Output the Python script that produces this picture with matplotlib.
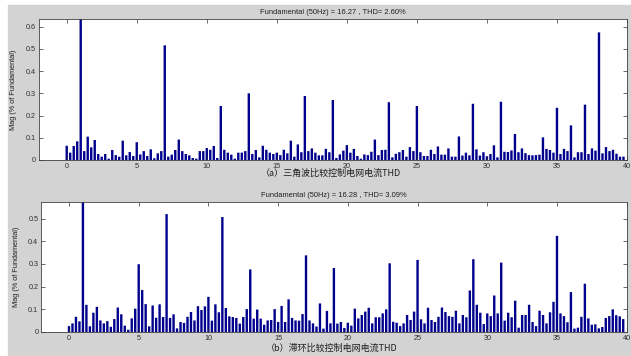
import numpy as np
import matplotlib.pyplot as plt
import matplotlib.transforms as mtransforms
from matplotlib.patches import Rectangle

plt.rcParams['font.family'] = ['Liberation Sans', 'Noto Sans CJK SC', 'DejaVu Sans']

# harmonic order axis: FFT resolution 12.5 Hz -> steps of 0.25 of 50 Hz
HARMONIC_ORDER = np.arange(0, 40, 0.25)

# (a) triangle-carrier comparison control, Mag in % of fundamental
MAG_A = [
    0.064, 0.033, 0.063, 0.084, 100.0, 0.040, 0.105, 0.057,
    0.090, 0.027, 0.015, 0.027, 0.006, 0.045, 0.022, 0.015,
    0.087, 0.021, 0.036, 0.018, 0.080, 0.025, 0.040, 0.018,
    0.048, 0.008, 0.030, 0.040, 0.516, 0.015, 0.024, 0.045,
    0.092, 0.040, 0.027, 0.021, 0.009, 0.006, 0.040, 0.040,
    0.054, 0.046, 0.063, 0.009, 0.243, 0.046, 0.033, 0.024,
    0.006, 0.033, 0.033, 0.040, 0.300, 0.027, 0.045, 0.012,
    0.064, 0.046, 0.033, 0.027, 0.033, 0.022, 0.046, 0.030,
    0.087, 0.015, 0.070, 0.035, 0.288, 0.040, 0.052, 0.033,
    0.021, 0.021, 0.050, 0.035, 0.270, 0.009, 0.025, 0.042,
    0.067, 0.033, 0.050, 0.018, 0.006, 0.025, 0.022, 0.037,
    0.092, 0.022, 0.045, 0.046, 0.260, 0.012, 0.028, 0.035,
    0.045, 0.015, 0.058, 0.040, 0.243, 0.035, 0.018, 0.018,
    0.046, 0.027, 0.061, 0.024, 0.024, 0.052, 0.015, 0.015,
    0.106, 0.020, 0.033, 0.021, 0.253, 0.048, 0.020, 0.035,
    0.017, 0.027, 0.066, 0.012, 0.262, 0.037, 0.036, 0.043,
    0.117, 0.035, 0.052, 0.031, 0.022, 0.021, 0.022, 0.024,
    0.102, 0.050, 0.045, 0.033, 0.235, 0.027, 0.050, 0.040,
    0.156, 0.012, 0.035, 0.035, 0.249, 0.027, 0.052, 0.042,
    0.574, 0.030, 0.058, 0.040, 0.046, 0.028, 0.015, 0.015,
]

# (b) hysteresis comparison control
MAG_B = [
    0.026, 0.038, 0.067, 0.047, 100.0, 0.120, 0.025, 0.085,
    0.111, 0.051, 0.038, 0.048, 0.023, 0.057, 0.108, 0.078,
    0.028, 0.010, 0.060, 0.103, 0.299, 0.185, 0.123, 0.025,
    0.117, 0.063, 0.122, 0.066, 0.520, 0.062, 0.078, 0.016,
    0.044, 0.040, 0.067, 0.088, 0.051, 0.114, 0.097, 0.113,
    0.155, 0.050, 0.122, 0.087, 0.507, 0.106, 0.069, 0.066,
    0.062, 0.037, 0.066, 0.101, 0.276, 0.059, 0.099, 0.059,
    0.032, 0.051, 0.053, 0.101, 0.044, 0.115, 0.044, 0.144,
    0.062, 0.051, 0.050, 0.079, 0.338, 0.051, 0.038, 0.024,
    0.126, 0.015, 0.093, 0.038, 0.282, 0.037, 0.044, 0.018,
    0.041, 0.028, 0.103, 0.060, 0.075, 0.090, 0.107, 0.038,
    0.065, 0.065, 0.082, 0.100, 0.303, 0.045, 0.041, 0.026,
    0.038, 0.075, 0.053, 0.090, 0.318, 0.056, 0.038, 0.107,
    0.053, 0.044, 0.067, 0.108, 0.088, 0.070, 0.067, 0.094,
    0.038, 0.075, 0.065, 0.183, 0.321, 0.120, 0.085, 0.035,
    0.082, 0.070, 0.161, 0.082, 0.306, 0.050, 0.085, 0.065,
    0.138, 0.019, 0.075, 0.075, 0.120, 0.044, 0.026, 0.094,
    0.075, 0.038, 0.087, 0.133, 0.424, 0.082, 0.070, 0.043,
    0.176, 0.015, 0.019, 0.067, 0.213, 0.060, 0.032, 0.034,
    0.016, 0.022, 0.062, 0.070, 0.100, 0.074, 0.069, 0.057,
]

TITLE_A = "Fundamental (50Hz) = 16.27 , THD= 2.60%"
TITLE_B = "Fundamental (50Hz) = 16.28 , THD= 3.09%"
CAPTION_A = "（a）三角波比较控制电网电流THD"
CAPTION_B = "（b）滞环比较控制电网电流THD"
YLABEL = "Mag (% of Fundamental)"

BG = "#d3d3d3"
BAR = "#00008c"

W, H = 631, 356
fig = plt.figure(figsize=(W / 100, H / 100), dpi=100, facecolor="white")
# grey window area of the screenshots
fig.patches.append(Rectangle((8 / W, 0), 1 - 8 / W, 1 - 5 / H,
                             transform=fig.transFigure, color=BG, zorder=-10))


def px_axes(left, top, right, bottom):
    return fig.add_axes([left / W, 1 - bottom / H, (right - left) / W, (bottom - top) / H])


def draw(ax, mags, ymax, yticks, title, caption, cap_y, ylab_x):
    bars = ax.bar(HARMONIC_ORDER, mags, width=0.17, color=BAR, linewidth=0)
    for b in bars:
        b.set_snap(False)
    ax.set_xlim(-2, 40)
    ax.set_ylim(0, ymax)
    ax.set_xticks(np.arange(0, 41, 5))
    ax.set_yticks(yticks)
    ax.set_yticklabels(["0"] + [f"{v:.1f}" for v in yticks[1:]])
    ax.tick_params(direction="in", length=3, width=0.5, labelsize=5.2, pad=2,
                   top=True, right=True, colors="#303030")
    for s in ax.spines.values():
        s.set_linewidth(0.6)
        s.set_color("#404040")
    ax.set_title(title, fontsize=5.4, pad=4, color="#202020")
    ax.set_ylabel(YLABEL, fontsize=5.3, color="#202020")
    trans = mtransforms.blended_transform_factory(fig.transFigure, ax.transAxes)
    ax.yaxis.set_label_coords(ylab_x, 0.5, transform=trans)
    fig.text(0.525, 1 - cap_y / H, caption, fontsize=6.5, ha="center", va="center",
             color="#202020", family=["Noto Sans CJK SC", "DejaVu Sans"])


ax_a = px_axes(38.7, 19.3, 627, 160)
draw(ax_a, MAG_A, 0.633, [0, 0.1, 0.2, 0.3, 0.4, 0.5, 0.6], TITLE_A, CAPTION_A, 173, 17 / W)

ax_b = px_axes(41.1, 202.3, 626.7, 332)
draw(ax_b, MAG_B, 0.572, [0, 0.1, 0.2, 0.3, 0.4, 0.5], TITLE_B, CAPTION_B, 348, 20 / W)

fig.savefig("out.png", dpi=100, facecolor=fig.get_facecolor())
